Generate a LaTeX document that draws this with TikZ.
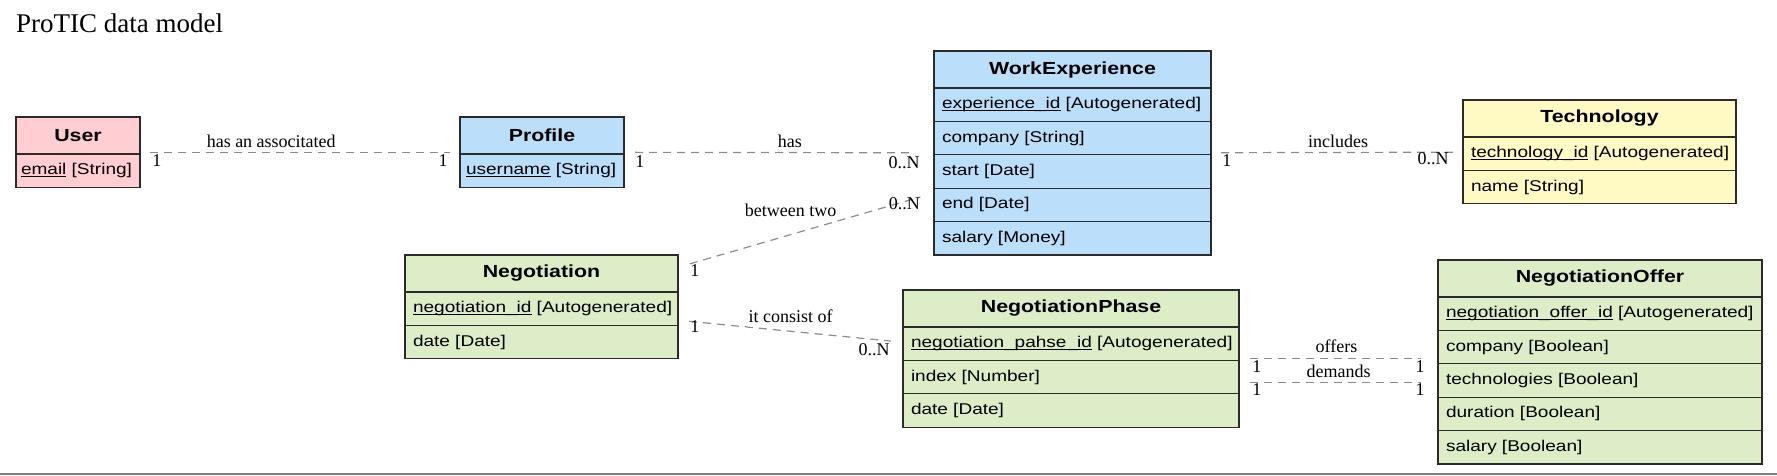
\documentclass[tikz,border=0pt]{standalone}
\usepackage{fontspec}
\setmainfont{Liberation Serif}
\newfontfamily\attrfont[FakeStretch=1.22]{Liberation Sans}
\usetikzlibrary{fit,calc}
\definecolor{cpink}{HTML}{FFCDD2}
\definecolor{cblue}{HTML}{BBDEFB}
\definecolor{cyellow}{HTML}{FFF9C4}
\definecolor{cgreen}{HTML}{DCEDC8}
\definecolor{cborder}{HTML}{2B2B2B}
\definecolor{cconn}{HTML}{8C8C8C}
\definecolor{cbottom}{HTML}{7F7F7F}
\newsavebox\keybox
\newcommand\keyattr[1]{\sbox\keybox{#1}\rlap{\rule[-2.2pt]{\wd\keybox}{1.2pt}}\usebox\keybox}
\tikzset{
  entbox/.style={draw=cborder, line width=1.3pt, inner sep=0pt, outer sep=0pt, anchor=north west},
  hdr/.style={entbox, minimum height=37pt, font=\attrfont\bfseries\fontsize{17.5}{20}\selectfont},
  attr/.style={entbox, minimum height=33.4pt, align=left, inner xsep=8pt,
    font=\attrfont\fontsize{15.6}{18}\selectfont,
    execute at begin node={\leavevmode\hbox\bgroup}, execute at end node={\egroup}},
  conn/.style={draw=cconn, line width=1.2pt, dash pattern=on 8pt off 6pt},
  lbl/.style={anchor=base, inner sep=0pt, font=\fontsize{18}{20}\selectfont},
  mult/.style={inner sep=0pt, font=\fontsize{18}{20}\selectfont},
}
\begin{document}
\begin{tikzpicture}[x=1pt,y=-1pt]
\useasboundingbox (0,0) rectangle (1777,475);
\node[anchor=base west, inner sep=0pt, font=\fontsize{27}{30}\selectfont] (title) at (16,32) {ProTIC data model};

% User
\node[hdr, fill=cpink, minimum width=124pt] (user-h) at (16,117) {User};
\node[attr, fill=cpink, inner xsep=5pt, text width=114pt] (user-1) at (user-h.south west) {\keyattr{email} [String]};
\node[fit=(user-h)(user-1), inner sep=0pt] (user) {};

% Profile
\node[hdr, fill=cblue, minimum width=164pt] (prof-h) at (460,117) {Profile};
\node[attr, fill=cblue, inner xsep=6pt, text width=152pt] (prof-1) at (prof-h.south west) {\keyattr{username} [String]};
\node[fit=(prof-h)(prof-1), inner sep=0pt] (profile) {};

% WorkExperience
\node[hdr, fill=cblue, minimum width=277pt] (we-h) at (934,51) {WorkExperience};
\node[attr, fill=cblue, text width=261pt] (we-1) at (we-h.south west) {\keyattr{experience\_id} [Autogenerated]};
\node[attr, fill=cblue, text width=261pt] (we-2) at (we-1.south west) {company [String]};
\node[attr, fill=cblue, text width=261pt] (we-3) at (we-2.south west) {start [Date]};
\node[attr, fill=cblue, text width=261pt] (we-4) at (we-3.south west) {end [Date]};
\node[attr, fill=cblue, text width=261pt] (we-5) at (we-4.south west) {salary [Money]};
\node[fit=(we-h)(we-5), inner sep=0pt] (we) {};

% Technology
\node[hdr, fill=cyellow, minimum width=273pt] (tech-h) at (1463,100) {Technology};
\node[attr, fill=cyellow, text width=257pt] (tech-1) at (tech-h.south west) {\keyattr{technology\_id} [Autogenerated]};
\node[attr, fill=cyellow, text width=257pt] (tech-2) at (tech-1.south west) {name [String]};
\node[fit=(tech-h)(tech-2), inner sep=0pt] (tech) {};

% Negotiation
\node[hdr, fill=cgreen, minimum width=273pt] (neg-h) at (405,255) {Negotiation};
\node[attr, fill=cgreen, text width=257pt] (neg-1) at (neg-h.south west) {\keyattr{negotiation\_id} [Autogenerated]};
\node[attr, fill=cgreen, text width=257pt] (neg-2) at (neg-1.south west) {date [Date]};
\node[fit=(neg-h)(neg-2), inner sep=0pt] (neg) {};

% NegotiationPhase
\node[hdr, fill=cgreen, minimum width=336pt] (np-h) at (903,290) {NegotiationPhase};
\node[attr, fill=cgreen, text width=320pt] (np-1) at (np-h.south west) {\keyattr{negotiation\_pahse\_id} [Autogenerated]};
\node[attr, fill=cgreen, text width=320pt] (np-2) at (np-1.south west) {index [Number]};
\node[attr, fill=cgreen, text width=320pt] (np-3) at (np-2.south west) {date [Date]};
\node[fit=(np-h)(np-3), inner sep=0pt] (np) {};

% NegotiationOffer
\node[hdr, fill=cgreen, minimum width=324pt] (no-h) at (1438,260) {NegotiationOffer};
\node[attr, fill=cgreen, text width=308pt] (no-1) at (no-h.south west) {\keyattr{negotiation\_offer\_id} [Autogenerated]};
\node[attr, fill=cgreen, text width=308pt] (no-2) at (no-1.south west) {company [Boolean]};
\node[attr, fill=cgreen, text width=308pt] (no-3) at (no-2.south west) {technologies [Boolean]};
\node[attr, fill=cgreen, text width=308pt] (no-4) at (no-3.south west) {duration [Boolean]};
\node[attr, fill=cgreen, text width=308pt] (no-5) at (no-4.south west) {salary [Boolean]};
\node[fit=(no-h)(no-5), inner sep=0pt] (no) {};

% User -- Profile
\draw[conn, shorten <=10pt, shorten >=10pt] (user) -- (profile) node[lbl, pos=0.41, yshift=5pt] (l-assoc) {has an associtated};
\node[mult, anchor=base west] (m-u1) at ([xshift=12pt,yshift=-14pt]user.east) {1};
\node[mult, anchor=base east] (m-p1) at ([xshift=-12pt,yshift=-14pt]profile.west) {1};

% Profile -- WorkExperience
\draw[conn, shorten <=11pt, shorten >=19pt] (profile) -- (we) node[lbl, pos=0.535, yshift=5pt] (l-has) {has};
\node[mult, anchor=base west] (m-p2) at ([xshift=11pt,yshift=-15pt]profile.east) {1};
\node[mult, anchor=base east] (m-w1) at ([xshift=-14pt,yshift=-15pt]we.west) {0..N};

% WorkExperience -- Technology
\draw[conn, shorten <=10pt, shorten >=10pt] (we) -- (tech) node[lbl, pos=0.504, yshift=5pt] (l-incl) {includes};
\node[mult, anchor=base west] (m-w2) at ([xshift=11pt,yshift=-13pt]we.east) {1};
\node[mult, anchor=base east] (m-t1) at ([xshift=-14pt,yshift=-13pt]tech.west) {0..N};

% Negotiation -- WorkExperience
\draw[conn, shorten <=12pt, shorten >=14pt] (neg) -- (we) node[lbl, pos=0.44, yshift=18pt] (l-betw) {between two};
\node[mult, anchor=base west] (m-n1) at ([xshift=12pt,yshift=-22pt]neg.north east) {1};
\node[mult, anchor=base east] (m-w3) at ([xshift=-14pt,yshift=-5pt]we-4.west) {0..N};

% Negotiation -- NegotiationPhase
\draw[conn, shorten <=11pt, shorten >=12pt] (neg) -- (np) node[lbl, pos=0.5, yshift=9pt] (l-cons) {it consist of};
\node[mult, anchor=base west] (m-n2) at ([xshift=12pt,yshift=-26pt]neg.east) {1};
\node[mult, anchor=base east] (m-np1) at ([xshift=-13pt,yshift=3pt]np.west) {0..N};

% NegotiationPhase -- NegotiationOffer
\coordinate (of-l) at (np.east);
\coordinate (of-r) at (np.east -| no.west);
\path ([yshift=-24pt]np.east) coordinate (dm-l);
\coordinate (dm-r) at (dm-l -| no.west);
\draw[conn, shorten <=11pt, shorten >=17pt] (of-l) -- (of-r) node[lbl, pos=0.49, yshift=6pt] (l-off) {offers};
\draw[conn, shorten <=11pt, shorten >=17pt] (dm-l) -- (dm-r) node[lbl, pos=0.5, yshift=5pt] (l-dem) {demands};
\node[mult, anchor=base west] (m-o1) at ([xshift=13pt,yshift=-14pt]of-l) {1};
\node[mult, anchor=base east] (m-o2) at ([xshift=-13pt,yshift=-14pt]of-r) {1};
\node[mult, anchor=base west] (m-d1) at ([xshift=13pt,yshift=-13pt]dm-l) {1};
\node[mult, anchor=base east] (m-d2) at ([xshift=-13pt,yshift=-13pt]dm-r) {1};

% bottom rule
\draw[cbottom, line width=2pt] (0,473.5) -- (1777,473.5);
\end{tikzpicture}
\end{document}
